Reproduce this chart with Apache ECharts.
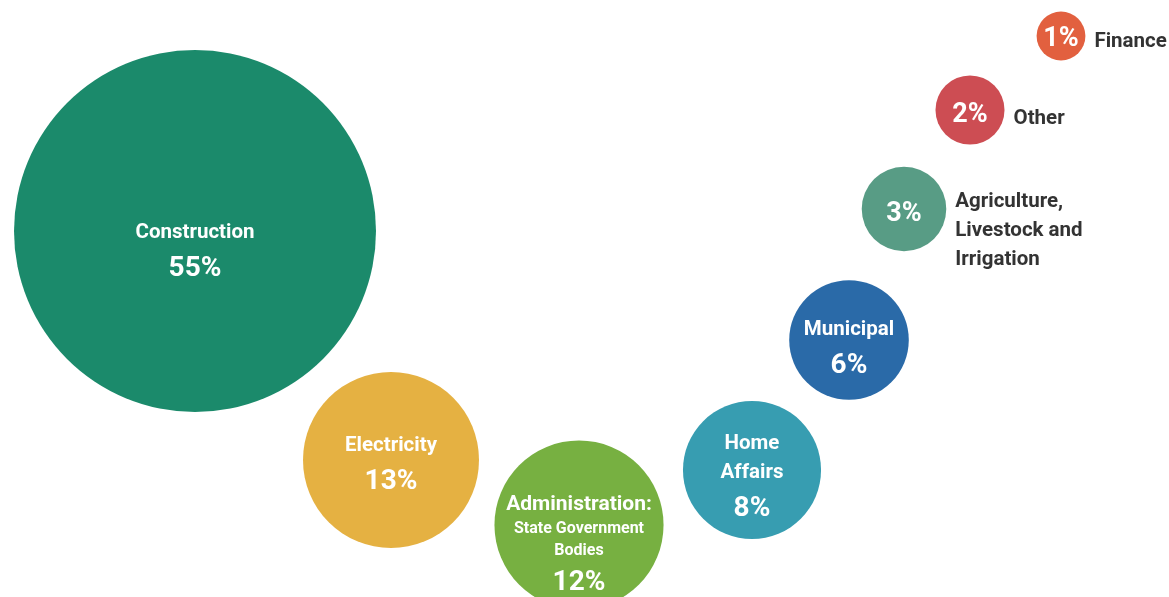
<!DOCTYPE html>
<html>
<head>
<meta charset="utf-8">
<script src="https://cdn.jsdelivr.net/npm/echarts@6/dist/echarts.min.js"></script>
<style>
html,body{margin:0;padding:0;background:#fff;}
#chart{width:1169px;height:597px;}
</style>
</head>
<body>
<div id="chart"></div>
<script>
// ---- data ----
var categories = ['Construction', 'Electricity', 'Administration: State Government Bodies', 'Home Affairs', 'Municipal', 'Agriculture, Livestock and Irrigation', 'Other', 'Finance'];
var shares = [55, 13, 12, 8, 6, 3, 2, 1];
// layout position of each bubble on hidden axes (x to the right, y downward)
var posX = [195, 391, 579, 752, 849, 904, 970, 1061];
var posY = [231, 460, 525, 470, 340, 209, 110, 36];

var colors = ['#1b8a6b', '#e5b142', '#77b041', '#379db1', '#2a6aa8', '#589c85', '#cd4d53', '#e2603f'];
var FONT = 'Roboto, "Liberation Sans", sans-serif';
var maxR = 181;
function radius(v) { return maxR * Math.sqrt(v / shares[0]); }

var insideLabels = [
  '{n|Construction}\n{p|55%}',
  '{n|Electricity}\n{p|13%}',
  '{a|Administration:}\n{s|State Government}\n{s|Bodies}\n{p|12%}',
  '{n|Home}\n{n|Affairs}\n{p|8%}',
  '{n|Municipal}\n{p|6%}',
  '{q|3%}', '{q|2%}', '{q|1%}'
];
var outsideLabels = ['', '', '', '', '', 'Agriculture,\nLivestock and\nIrrigation', 'Other', 'Finance'];
var insideOffsets = [[0, 23], [0, 7], [0, 23], [0, 9.5], [0, 11], [0, 5], [0, 5], [0, 3]];
var outsideOffsets = [[0,0],[0,0],[0,0],[0,0],[0,0],[0, 22], [0, 9], [0, 6]];

var bubbleData = categories.map(function (c, i) {
  return {
    name: c,
    value: [posX[i], posY[i], shares[i]],
    symbolSize: 2 * radius(shares[i]),
    itemStyle: { color: colors[i] },
    label: { formatter: insideLabels[i], offset: insideOffsets[i] }
  };
});
var nameData = categories.map(function (c, i) {
  return {
    name: c,
    value: [posX[i], posY[i], shares[i]],
    symbolSize: 2 * radius(shares[i]),
    label: { show: outsideLabels[i] !== '', formatter: outsideLabels[i], offset: outsideOffsets[i] }
  };
});

var chart = echarts.init(document.getElementById('chart'), null, { renderer: 'canvas' });
chart.setOption({
  animation: false,
  backgroundColor: '#ffffff',
  grid: { left: 0, right: 0, top: 0, bottom: 0 },
  xAxis: { type: 'value', min: 0, max: 1169, show: false },
  yAxis: { type: 'value', min: 0, max: 597, inverse: true, show: false },
  series: [
    {
      type: 'scatter',
      data: bubbleData,
      symbol: 'circle',
      itemStyle: { opacity: 1 },
      label: {
        show: true,
        position: 'inside',
        color: '#fff',
        fontFamily: FONT,
        align: 'center',
        rich: {
          n: { fontFamily: FONT, fontWeight: 'bold', fontSize: 20.5, lineHeight: 29, color: '#fff' },
          a: { fontFamily: FONT, fontWeight: 'bold', fontSize: 21, lineHeight: 26, color: '#fff' },
          s: { fontFamily: FONT, fontWeight: 'bold', fontSize: 16, lineHeight: 22, color: '#fff' },
          p: { fontFamily: FONT, fontWeight: 'bold', fontSize: 28, lineHeight: 42, color: '#fff' },
          q: { fontFamily: FONT, fontWeight: 'bold', fontSize: 27, lineHeight: 30, color: '#fff' }
        }
      },
      emphasis: { disabled: true }
    },
    {
      type: 'scatter',
      data: nameData,
      symbol: 'circle',
      itemStyle: { color: 'rgba(255,255,255,0)' },
      label: {
        position: 'right',
        distance: 9,
        color: '#333333',
        opacity: 1,
        fontFamily: FONT,
        fontWeight: 'bold',
        fontSize: 20.5,
        lineHeight: 29
      },
      emphasis: { disabled: true },
      silent: true
    }
  ]
});
</script>
</body>
</html>
